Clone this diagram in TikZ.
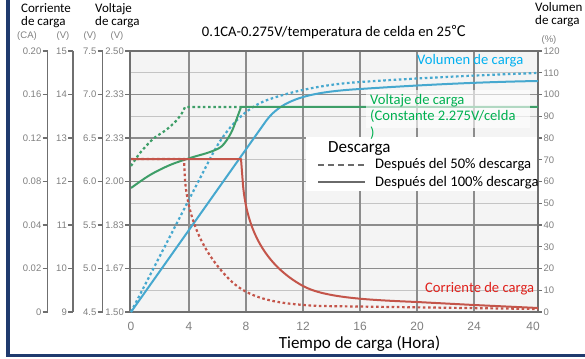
\documentclass[tikz,border=0pt]{standalone}
\usepackage{fontspec}
\setmainfont{Carlito}
\newfontfamily\tickfont{Liberation Sans}
\newfontfamily\cjkfont{Noto Sans CJK SC}
\definecolor{gridmaj}{HTML}{8C8C8C}
\definecolor{gridmin}{HTML}{C4C4C4}
\definecolor{plotbg}{HTML}{F4F4F4}
\definecolor{axisgray}{HTML}{6F6F6F}
\definecolor{cblue}{HTML}{46A8CF}
\definecolor{cgreen}{HTML}{3E9E68}
\definecolor{cred}{HTML}{C4554A}
\definecolor{tblue}{HTML}{00B0F0}
\definecolor{tgreen}{HTML}{00B050}
\definecolor{tred}{HTML}{E0201B}
\definecolor{frameblue}{HTML}{1F3A6E}
\definecolor{tickgray}{HTML}{808080}
\definecolor{leggray}{HTML}{6A6A6A}
\tikzset{
  majgrid/.style={draw=gridmaj,line width=1.1pt},
  mingrid/.style={draw=gridmin,line width=0.8pt},
  axisline/.style={draw=axisgray,line width=1.3pt},
  ticklab/.style={font=\tickfont\fontsize{9.5}{9.5}\selectfont,text=tickgray,inner sep=0pt},
  xticklab/.style={font=\tickfont\fontsize{12}{12}\selectfont,text=tickgray,inner sep=0pt},
  hdr/.style={font=\fontsize{13}{13}\selectfont,align=left,inner sep=0pt},
  annot/.style={font=\fontsize{14.6}{17.5}\selectfont,inner sep=0pt,anchor=west},
  curve/.style={line width=2pt,line join=round},
  dotcurve/.style={line width=2.2pt,dash pattern=on 2.6pt off 2.6pt},
  legline/.style={draw=leggray,line width=2.6pt}
}
\begin{document}
\begin{tikzpicture}[x=1pt,y=-1pt]
\useasboundingbox (0,0) rectangle (585,358);
\fill[white] (0,0) rectangle (585,358);
% plot background and grid
\fill[plotbg] (130,51) rectangle (538,312);
\foreach \k in {1,3,...,11}{\draw[mingrid] (130,{312-\k*21.75}) -- (538,{312-\k*21.75});}
\foreach \k in {2,4,...,10}{\draw[majgrid] (130,{312-\k*21.75}) -- (538,{312-\k*21.75});}
\foreach \x in {189,246,303,360,417,474}{\draw[majgrid] (\x,51) -- (\x,312);}
% legend box
\fill[white] (306,137) rectangle (537,191);
\draw[axisline] (130,51) rectangle (538,312);
% left axes
\foreach \ax in {47.5,73,102.5}{\draw[axisline] (\ax,51) -- (\ax,312);}
\foreach \i/\a/\b/\c/\d in {0/0/9/4.5/1.50,1/0.02/10/5.0/1.67,2/0.04/11/5.5/1.83,3/0.08/12/6.0/2.00,4/0.12/13/6.5/2.33,5/0.16/14/7.0/2.33,6/0.20/15/7.5/2.50}{
  \draw[axisline] (42.5,{312-\i*43.5}) -- (47.5,{312-\i*43.5});
  \draw[axisline] (68,{312-\i*43.5}) -- (73,{312-\i*43.5});
  \draw[axisline] (97.5,{312-\i*43.5}) -- (102.5,{312-\i*43.5});
  \draw[axisline] (125,{312-\i*43.5}) -- (130,{312-\i*43.5});
  \node[ticklab,anchor=east] (ca\i) at (41.5,{312-\i*43.5}) {\a};
  \node[ticklab,anchor=east] (va\i) at (67,{312-\i*43.5}) {\b};
  \node[ticklab,anchor=east] (vb\i) at (96.5,{312-\i*43.5}) {\c};
  \node[ticklab,anchor=east] (vc\i) at (124,{312-\i*43.5}) {\d};
}
\node[ticklab] (uca) at (27,36) {(CA)};
\node[ticklab] (uv1) at (63,36) {(V)};
\node[ticklab] (uv2) at (90,36) {(V)};
\node[ticklab] (uv3) at (117,36) {(V)};
\node[ticklab] (upc) at (549,40) {(\%)};
% right axis
\foreach \k in {0,...,12}{
  \pgfmathtruncatemacro\p{\k*10}
  \draw[axisline] (538,{312-\k*21.75}) -- (542,{312-\k*21.75});
  \node[ticklab,anchor=west] (rp\k) at (543.5,{312-\k*21.75}) {\p};
}
% x labels
\foreach \x/\t in {131/0,189/4,246/8,303/12,360/16,417/20,474/24,533/40}{
  \node[xticklab] (xl\t) at (\x,326) {\t};
}
% headers
\node[hdr,anchor=west] (hcur) at (21,16) {Corriente\\de carga};
\node[hdr,anchor=west] (hvol) at (95,16) {Voltaje\\de carga};
\node[hdr,anchor=west] (hcap) at (535,15) {Volumen\\de carga};
\node[font=\fontsize{14.6}{14.6}\selectfont,inner sep=0pt] (title) at (334,32) {0.1CA-0.275V/temperatura de celda en 25{\cjkfont ℃}};
\node[font=\fontsize{17}{17}\selectfont,inner sep=0pt] (xtitle) at (359.5,344) {Tiempo de carga (Hora)};
% curves: charge volume
\draw[curve,cblue] (131,312) -- (266,121) .. controls (282,99) and (310,92) .. (360,89) .. controls (420,85) and (480,82) .. (538,81);
\draw[dotcurve,cblue] (131,312) -- (212,155) .. controls (225,130) and (245,107) .. (270,99) .. controls (300,89) and (330,84) .. (360,82) .. controls (420,78) and (480,75) .. (538,73);
% charge voltage
\draw[curve,cgreen] plot[smooth,tension=0.55] coordinates {(131,188) (150,175) (170,165) (190,158) (210,152) (222,146) (231,133) (237,118) (241,107)} -- (538,107);
\draw[dotcurve,cgreen] plot[smooth,tension=0.55] coordinates {(131,166) (140,153) (153,139) (166,130) (176,121) (182,113) (185,107)} -- (241,107);
% charge current
\draw[dotcurve,cred] (131,159) -- (184,159) -- (185,180) .. controls (188,215) and (200,250) .. (230,280) .. controls (250,300) and (280,304) .. (320,306) -- (538,309);
\draw[curve,cred] (131,159) -- (241,159) -- (243,185) .. controls (247,230) and (265,265) .. (303,286) .. controls (325,298) and (370,300) .. (417,302) -- (474,305) -- (538,308);
% voltage text box
\fill[white,opacity=0.6] (366,90) rectangle (530,128);
% annotations
\node[annot,text=tblue] (avol) at (417,61) {Volumen de carga};
\node[annot,text=tgreen,align=left,anchor=north west,font=\fontsize{14.6}{16.5}\selectfont] (avolt) at (370,94) {Voltaje de carga\\(Constante 2.275V/celda\\)};
\node[annot,text=tred] (acur) at (425,289) {Corriente de carga};
\node[font=\fontsize{17}{17}\selectfont,inner sep=0pt,anchor=west] (desc) at (328,149) {Descarga};
\coordinate (l1a) at (318,165);
\coordinate (l1b) at (367,165);
\coordinate (l2a) at (318,182);
\coordinate (l2b) at (365,182);
\draw[legline,dash pattern=on 6pt off 4pt] (l1a) -- (l1b);
\draw[legline] (l2a) -- (l2b);
\node[annot] (leg1) at (375,164.5) {Después del 50\% descarga};
\node[annot] (leg2) at (375,183) {Después del 100\% descarga};
% frame border
\draw[frameblue,line width=3.5pt] (8,0) -- (8,355.5) -- (585,355.5);
\end{tikzpicture}
\end{document}
